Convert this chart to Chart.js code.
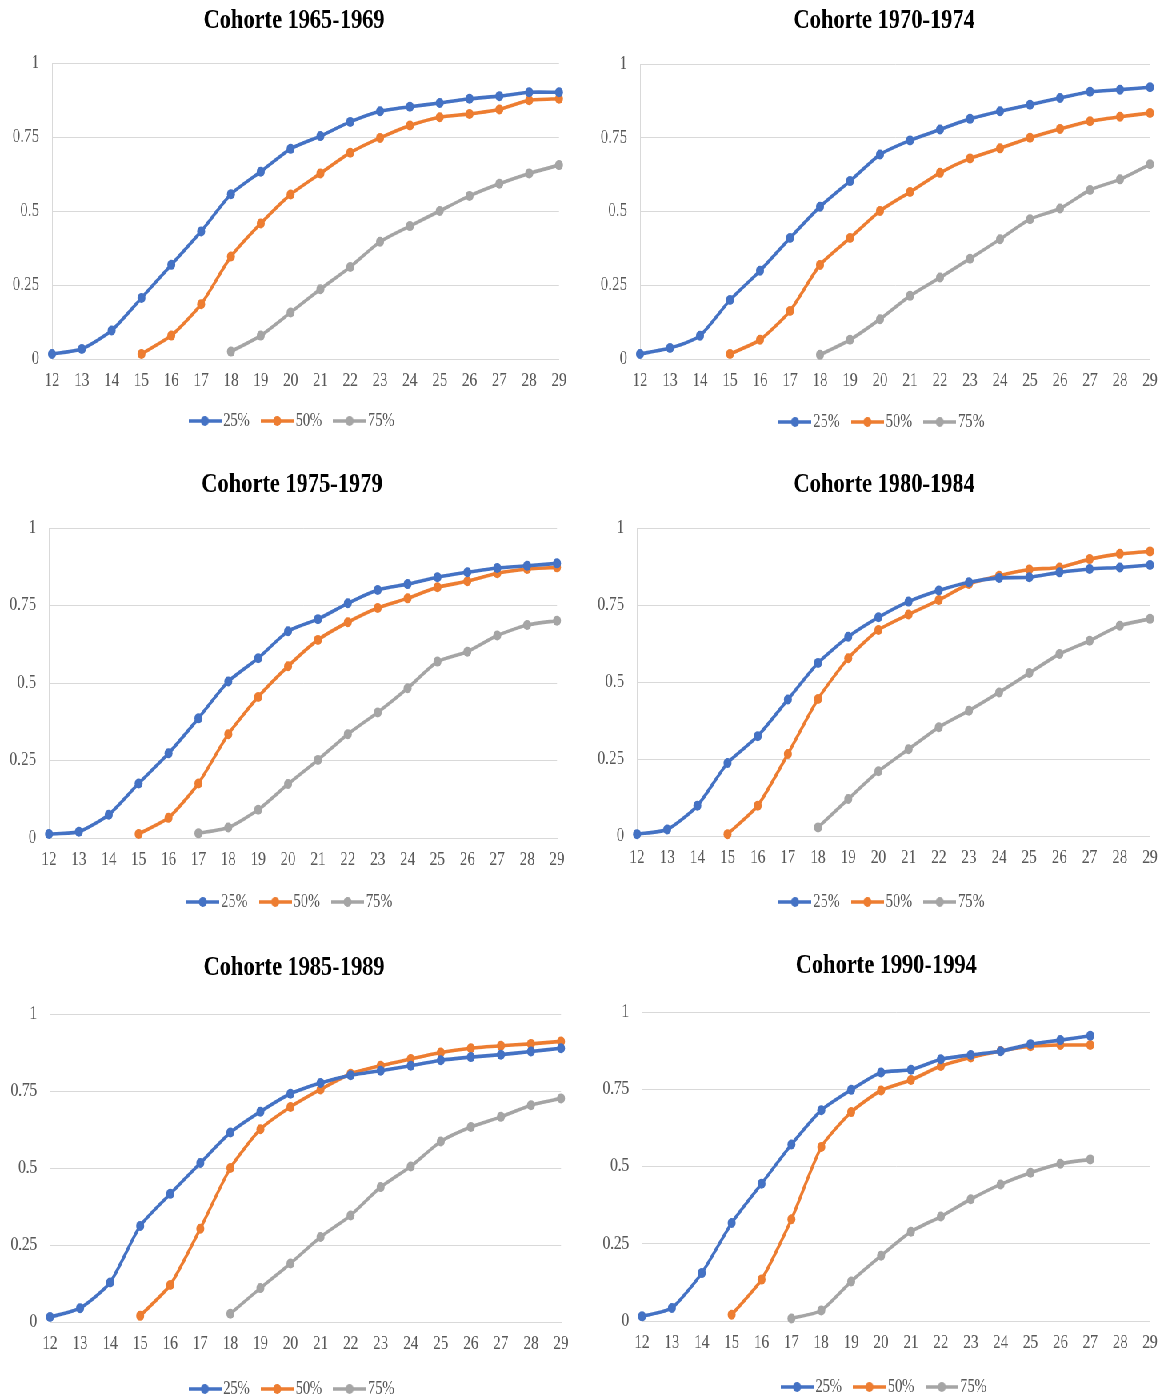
<!DOCTYPE html>
<html>
<head>
<meta charset="utf-8">
<script src="https://cdn.jsdelivr.net/npm/chart.js@4.4.1/dist/chart.umd.min.js"></script>
<style>
  html, body { margin: 0; padding: 0; background: #ffffff; overflow: hidden; }
  body { width: 1166px; height: 1399px; position: relative; }
  /* the whole sheet is set in a condensed face: draw wide, squeeze horizontally */
  #sheet { position: absolute; left: 0; top: 0; width: 1458px; height: 1399px;
           transform: scaleX(0.8); transform-origin: 0 0; }
  #sheet canvas { position: absolute; }
</style>
</head>
<body>
<div id="sheet"></div>
<script>
// ---- data -------------------------------------------------------------
const ages = ['12','13','14','15','16','17','18','19','20','21','22','23','24','25','26','27','28','29'];
const yTickLabels = ['0', '0.25', '0.5', '0.75', '1'];
const seriesNames = ['25%', '50%', '75%'];
const titles = ['Cohorte 1965-1969', 'Cohorte 1970-1974', 'Cohorte 1975-1979',
                'Cohorte 1980-1984', 'Cohorte 1985-1989', 'Cohorte 1990-1994'];

const q25_1965 = [0.017,0.034,0.096,0.206,0.318,0.431,0.557,0.633,0.710,0.753,0.801,0.837,0.852,0.865,0.879,0.888,0.901,0.901];
const q50_1965 = [null,null,null,0.017,0.079,0.185,0.346,0.458,0.556,0.627,0.697,0.747,0.789,0.817,0.828,0.843,0.874,0.879];
const q75_1965 = [null,null,null,null,null,null,0.025,0.079,0.157,0.236,0.311,0.396,0.449,0.500,0.551,0.592,0.627,0.655];

const q25_1970 = [0.017,0.037,0.079,0.200,0.299,0.410,0.516,0.603,0.693,0.741,0.778,0.814,0.840,0.862,0.885,0.906,0.913,0.921];
const q50_1970 = [null,null,null,0.017,0.065,0.163,0.319,0.410,0.502,0.566,0.631,0.680,0.714,0.750,0.780,0.806,0.821,0.834];
const q75_1970 = [null,null,null,null,null,null,0.014,0.065,0.135,0.214,0.276,0.340,0.406,0.474,0.510,0.573,0.609,0.660];

const q25_1975 = [0.013,0.020,0.075,0.176,0.273,0.386,0.505,0.580,0.667,0.706,0.757,0.800,0.819,0.841,0.857,0.871,0.878,0.886];
const q50_1975 = [null,null,null,0.013,0.065,0.176,0.335,0.455,0.554,0.639,0.696,0.742,0.773,0.809,0.828,0.854,0.868,0.873];
const q75_1975 = [null,null,null,null,null,0.015,0.034,0.091,0.174,0.252,0.335,0.405,0.483,0.569,0.601,0.653,0.687,0.701];

const q25_1980 = [0.006,0.021,0.098,0.237,0.324,0.443,0.562,0.647,0.710,0.761,0.797,0.824,0.838,0.840,0.856,0.867,0.872,0.880];
const q50_1980 = [null,null,null,0.006,0.098,0.266,0.445,0.577,0.669,0.719,0.766,0.818,0.845,0.865,0.872,0.899,0.916,0.924];
const q75_1980 = [null,null,null,null,null,null,0.028,0.120,0.210,0.282,0.353,0.407,0.466,0.529,0.591,0.634,0.683,0.705];

const q25_1985 = [0.016,0.045,0.128,0.312,0.416,0.516,0.615,0.683,0.741,0.776,0.801,0.816,0.832,0.850,0.860,0.868,0.878,0.889];
const q50_1985 = [null,null,null,0.020,0.120,0.303,0.500,0.626,0.698,0.755,0.806,0.832,0.854,0.875,0.889,0.897,0.903,0.911];
const q75_1985 = [null,null,null,null,null,null,0.027,0.110,0.190,0.276,0.346,0.438,0.505,0.586,0.633,0.666,0.704,0.726];

const q25_1990 = [0.015,0.042,0.155,0.317,0.444,0.571,0.682,0.748,0.804,0.813,0.847,0.861,0.873,0.896,0.909,0.923,null,null];
const q50_1990 = [null,null,null,0.020,0.134,0.329,0.563,0.676,0.746,0.780,0.825,0.853,0.874,0.889,0.893,0.893,null,null];
const q75_1990 = [null,null,null,null,null,0.008,0.034,0.128,0.211,0.289,0.338,0.394,0.442,0.480,0.509,0.523,null,null];

const cohortSeries = [
  [q25_1965, q50_1965, q75_1965],
  [q25_1970, q50_1970, q75_1970],
  [q25_1975, q50_1975, q75_1975],
  [q25_1980, q50_1980, q75_1980],
  [q25_1985, q50_1985, q75_1985],
  [q25_1990, q50_1990, q75_1990]
];

// ---- look -------------------------------------------------------------
const SX = 0.8;                       // horizontal squeeze of the sheet
const FONT = "'Liberation Serif', 'Times New Roman', serif";
const COLORS = ['#4472C4', '#ED7D31', '#A5A5A5'];
const GRID = '#D9D9D9';
const TICK_COLOR = '#595959';
const LEGEND_PAD = 20.5;
const LEGEND_FONT = 18;
const ICON_W = 41;

// panel frames on the final page (pixels): canvas span, centre, plot box, title/legend rows
const frames = [
  {top: 0,   left: 0,   right: 588,  cx: 294, cl: 52,  cr: 559,  ty: 21,  ct: 63,   cb: 359,  ly: 421},
  {top: 0,   left: 560, right: 1166, cx: 884, cl: 640, cr: 1150, ty: 21,  ct: 64,   cb: 359,  ly: 422},
  {top: 460, left: 0,   right: 588,  cx: 292, cl: 49,  cr: 557,  ty: 485, ct: 528,  cb: 838,  ly: 902},
  {top: 460, left: 560, right: 1166, cx: 884, cl: 637, cr: 1153, ty: 485, ct: 528,  cb: 836,  ly: 902},
  {top: 940, left: 0,   right: 588,  cx: 294, cl: 50,  cr: 561,  ty: 968, ct: 1014, cb: 1322, ly: 1389},
  {top: 940, left: 560, right: 1166, cx: 886, cl: 642, cr: 1153, ty: 966, ct: 1012, cb: 1321, ly: 1387}
];

// legend symbol: short line with a marker in the middle
function legendIcon(color) {
  const c = document.createElement('canvas');
  c.width = ICON_W; c.height = 12;
  const g = c.getContext('2d');
  g.strokeStyle = color; g.lineWidth = 3.6;
  g.beginPath(); g.moveTo(0, 6); g.lineTo(ICON_W, 6); g.stroke();
  g.fillStyle = color;
  g.beginPath(); g.arc(ICON_W / 2, 6, 5, 0, Math.PI * 2); g.fill();
  return c;
}
const icons = COLORS.map(legendIcon);

// the value axis is kept narrow; let its labels spill to the left instead of being clipped
const wideYLabels = {
  id: 'wideYLabels',
  afterLayout(chart) {
    const y = chart.scales.y;
    y.left = Math.min(y.left, y.right - 70);
  }
};

const sheet = document.getElementById('sheet');

frames.forEach((f, idx) => {
  const cL = f.left / SX;
  const W = (f.right - f.left) / SX;
  const padR = (f.right - f.cr) / SX;
  const padL = 2 * (f.cx / SX - cL) - W + padR;
  const yW = f.cl / SX - cL - padL;
  const H = f.ly - f.top + 19;
  const legendH = LEGEND_FONT + LEGEND_PAD + 10;
  const xH = H - legendH - (f.cb - f.top);
  const tp = (f.ty - f.top) - 16.8;
  const tb = (f.ct - f.ty) - 16.8;

  const canvas = document.createElement('canvas');
  canvas.width = Math.round(W);
  canvas.height = Math.round(H);
  canvas.style.left = cL + 'px';
  canvas.style.top = f.top + 'px';
  canvas.style.width = Math.round(W) + 'px';
  canvas.style.height = Math.round(H) + 'px';
  sheet.appendChild(canvas);

  const datasets = cohortSeries[idx].map((vals, s) => ({
    label: seriesNames[s],
    data: vals,
    borderColor: COLORS[s],
    backgroundColor: COLORS[s],
    borderWidth: 3.6,
    pointRadius: 5,
    pointBorderWidth: 0,
    pointHoverRadius: 5,
    tension: 0.2,
    spanGaps: false,
    clip: false
  }));

  new Chart(canvas, {
    type: 'line',
    data: { labels: ages, datasets },
    plugins: [wideYLabels],
    options: {
      responsive: false,
      animation: false,
      layout: { padding: { left: padL, right: padR, top: 0, bottom: 0 } },
      scales: {
        x: {
          type: 'category',
          offset: false,
          grid: { drawOnChartArea: false, drawTicks: false },
          border: { display: true, color: GRID, width: 1 },
          ticks: { color: TICK_COLOR, font: { family: FONT, size: 19 }, padding: 11,
                   maxRotation: 0, autoSkip: false },
          afterFit: s => { s.height = xH; }
        },
        y: {
          min: 0, max: 1,
          grid: { color: GRID, drawTicks: false, lineWidth: 1 },
          border: { display: true, color: GRID, width: 1 },
          ticks: { stepSize: 0.25, color: TICK_COLOR, font: { family: FONT, size: 19 }, padding: 16,
                   callback: (v, i) => yTickLabels[i] },
          afterFit: s => { s.width = yW; }
        }
      },
      plugins: {
        tooltip: { enabled: false },
        title: {
          display: true,
          text: titles[idx],
          color: '#000000',
          font: { family: FONT, size: 28, weight: 'bold', lineHeight: 1.2 },
          padding: { top: tp, bottom: tb }
        },
        legend: {
          display: true,
          position: 'bottom',
          labels: {
            usePointStyle: true,
            pointStyleWidth: ICON_W - 13,
            padding: LEGEND_PAD,
            color: TICK_COLOR,
            font: { family: FONT, size: LEGEND_FONT },
            generateLabels: chart => {
              const items = Chart.defaults.plugins.legend.labels.generateLabels(chart);
              items.forEach((it, i) => { it.pointStyle = icons[i]; });
              return items;
            }
          }
        }
      }
    }
  });
});
</script>
</body>
</html>
